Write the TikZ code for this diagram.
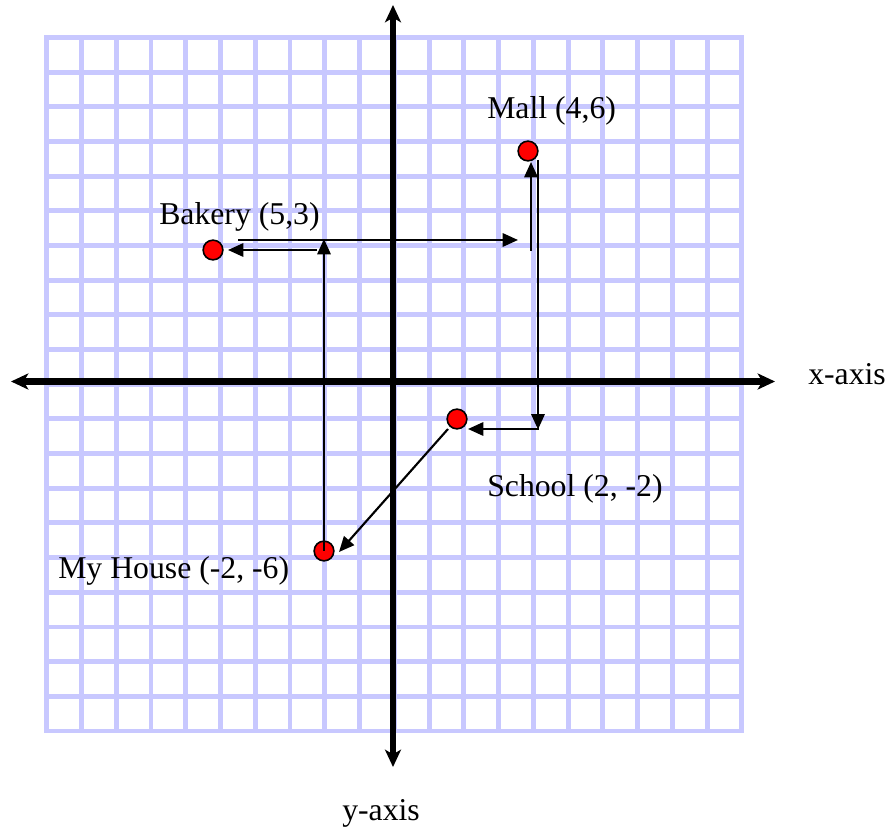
\documentclass[tikz,border=0pt]{standalone}
\usepackage{fontspec}
\setmainfont{Liberation Serif}
\usetikzlibrary{arrows.meta}
\definecolor{gridc}{RGB}{200,200,255}
\definecolor{dotred}{RGB}{255,0,0}
\tikzset{
  gridline/.style={draw=gridc, line width=3.7pt, line cap=rect},
  axisline/.style={draw=black, line width=4.8pt},
  conn/.style={draw=black, line width=1.6pt},
  connarrow/.style={conn, -{Triangle[length=11.5pt,width=10pt]}},
  place/.style={circle, fill=dotred, draw=black, line width=1.2pt, minimum size=14.8pt, inner sep=0pt},
  lbl/.style={font=\fontsize{23.8}{28}\selectfont, inner sep=0pt, anchor=base west}
}
\begin{document}
\begin{tikzpicture}[x=0.75pt,y=-0.75pt]
\useasboundingbox (0,0) rectangle (890,827);
% grid
\foreach \i in {0,...,20}{
  \draw[gridline] ({46.7+\i*34.76},37.5) -- ({46.7+\i*34.76},731);
  \draw[gridline] (46.7,{37.5+\i*34.675}) -- (742,{37.5+\i*34.675});
}
% axes
\coordinate (xl) at (11,381.5);
\coordinate (xr) at (775,381.5);
\coordinate (yt) at (393,5);
\coordinate (yb) at (393,767);
\draw[axisline, {Stealth[length=13pt,width=12pt,inset=3.5pt]}-{Stealth[length=13pt,width=12pt,inset=3.5pt]}] (xl) -- (xr);
\draw[axisline, {Stealth[length=13pt,width=12pt,inset=3.5pt]}-{Stealth[length=13pt,width=12pt,inset=3.5pt]}] (yt) -- (yb);
% places
\node[place] (mall) at (528,151) {};
\node[place] (bakery) at (213,250) {};
\node[place] (school) at (457,419) {};
\node[place] (house) at (324,551) {};
% labels
\node[lbl] (lmall) at (487,119) {Mall (4,6)};
\node[lbl] (lbakery) at (159,225) {Bakery (5,3)};
\node[lbl] (lschool) at (487,497) {School (2, -2)};
\node[lbl] (lhouse) at (58,578) {My House (-2, -6)};
\node[lbl] (lx) at (808,385) {x-axis};
\node[lbl] (ly) at (342,820) {y-axis};
% connector coordinates
\coordinate (a1) at (324,239);
\coordinate (a2s) at (317,250);
\coordinate (a2e) at (228,250);
\coordinate (a3s) at (238,240);
\coordinate (a3e) at (518,240);
\coordinate (a4s) at (531,251);
\coordinate (a4e) at (531,162);
\coordinate (a5s) at (538,160);
\coordinate (a5e) at (538,429.5);
\coordinate (a6s) at (539,429);
\coordinate (a6e) at (468,429);
\coordinate (a7s) at (448,429);
\coordinate (a7e) at (339,552);
% connectors
\draw[connarrow] (house.center) -- (a1);
\draw[connarrow] (a2s) -- (a2e);
\draw[connarrow] (a3s) -- (a3e);
\draw[connarrow] (a4s) -- (a4e);
\draw[connarrow] (a5s) -- (a5e);
\draw[connarrow] (a6s) -- (a6e);
\draw[connarrow] (a7s) -- (a7e);
\end{tikzpicture}
\end{document}
